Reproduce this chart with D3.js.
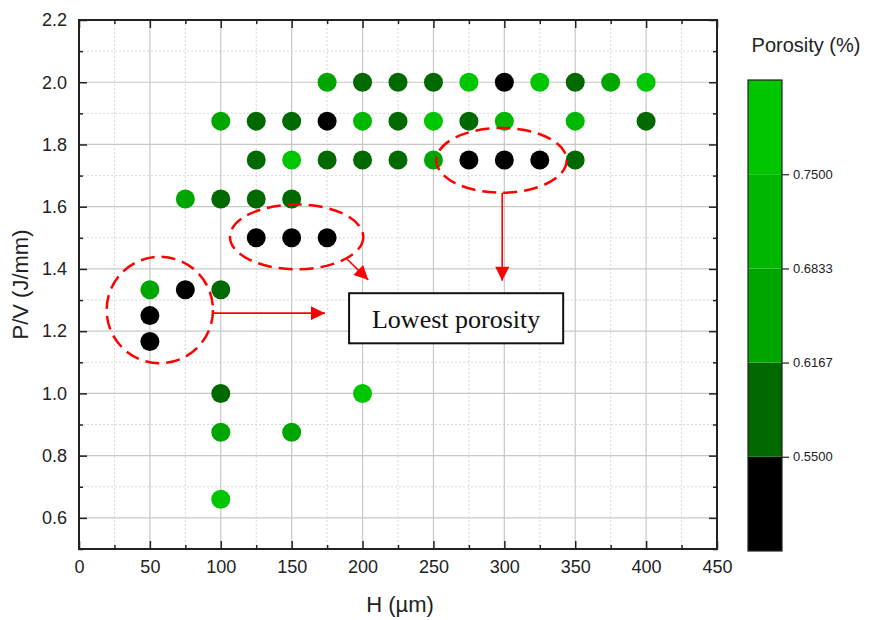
<!DOCTYPE html>
<html>
<head>
<meta charset="utf-8">
<script src="https://cdn.jsdelivr.net/npm/d3@7"></script>
<style>
    body { margin: 0; background: #fff; }
    svg { display: block; font-family: Arial, "Liberation Sans", sans-serif; }
</style>
</head>
<body>
<svg id="chart" width="875" height="620"></svg>
<script>

// hatch spacing H (um), energy P/V (J/mm) and measured porosity (%) for each sample
var hValues = [175, 200, 225, 250, 275, 300, 325, 350, 375, 400,
               100, 125, 150, 175, 200, 225, 250, 275, 300, 350, 400,
               125, 150, 175, 200, 225, 250, 275, 300, 325, 350,
               75, 100, 125, 150,
               125, 150, 175,
               50, 75, 100,
               50, 50,
               100, 200,
               100, 150,
               100];
var pvValues = [2.0, 2.0, 2.0, 2.0, 2.0, 2.0, 2.0, 2.0, 2.0, 2.0,
                1.875, 1.875, 1.875, 1.875, 1.875, 1.875, 1.875, 1.875, 1.875, 1.875, 1.875,
                1.75, 1.75, 1.75, 1.75, 1.75, 1.75, 1.75, 1.75, 1.75, 1.75,
                1.625, 1.625, 1.625, 1.625,
                1.5, 1.5, 1.5,
                1.333, 1.333, 1.333,
                1.25, 1.1667,
                1.0, 1.0,
                0.875, 0.875,
                0.66];
var porosity = [0.65, 0.58, 0.58, 0.58, 0.78, 0.50, 0.78, 0.58, 0.65, 0.78,
                0.65, 0.58, 0.58, 0.50, 0.72, 0.58, 0.78, 0.58, 0.72, 0.72, 0.58,
                0.58, 0.78, 0.58, 0.58, 0.58, 0.65, 0.50, 0.50, 0.50, 0.58,
                0.65, 0.58, 0.58, 0.58,
                0.50, 0.50, 0.50,
                0.65, 0.50, 0.58,
                0.50, 0.50,
                0.58, 0.78,
                0.65, 0.65,
                0.78];

var levelBreaks = [0.55, 0.6167, 0.6833, 0.75];
var levelColors = ['#000000', '#006a00', '#00a600', '#00b800', '#00c600'];
var levelLabels = ['0.5500', '0.6167', '0.6833', '0.7500'];

var xTicks = [0, 50, 100, 150, 200, 250, 300, 350, 400, 450];
var yTicks = [0.6, 0.8, 1.0, 1.2, 1.4, 1.6, 1.8, 2.0, 2.2];

var svg = d3.select('#chart'),
    plotLeft = 79, plotRight = 717, plotTop = 20, plotBottom = 549;

var x = d3.scaleLinear().domain([0, 450]).range([plotLeft, plotRight]),
    y = d3.scaleLinear().domain([0.5, 2.2]).range([plotBottom, plotTop]),
    color = d3.scaleThreshold().domain(levelBreaks).range(levelColors);

var xMinor = d3.range(25, 450, 50),
    yMinor = d3.range(0.5, 2.2, 0.2);

// grid
var grid = svg.append('g');

grid.selectAll('line.xminor').data(xMinor).enter().append('line')
    .attr('x1', x).attr('x2', x).attr('y1', plotTop).attr('y2', plotBottom)
    .attr('stroke', '#d8d8d8').attr('stroke-dasharray', '2,2');

grid.selectAll('line.yminor').data(yMinor).enter().append('line')
    .attr('y1', y).attr('y2', y).attr('x1', plotLeft).attr('x2', plotRight)
    .attr('stroke', '#d8d8d8').attr('stroke-dasharray', '2,2');

grid.selectAll('line.xmajor').data(xTicks.slice(1, -1)).enter().append('line')
    .attr('x1', x).attr('x2', x).attr('y1', plotTop).attr('y2', plotBottom)
    .attr('stroke', '#c8c8c8').attr('stroke-width', 1.2);

grid.selectAll('line.ymajor').data(yTicks.slice(0, -1)).enter().append('line')
    .attr('y1', y).attr('y2', y).attr('x1', plotLeft).attr('x2', plotRight)
    .attr('stroke', '#c8c8c8').attr('stroke-width', 1.2);

// points
var samples = hValues.map(function(h, i) { return {h: h, pv: pvValues[i], p: porosity[i]} });

svg.append('g').selectAll('circle').data(samples).enter().append('circle')
    .attr('cx', function(d) { return x(d.h) })
    .attr('cy', function(d) { return y(d.pv) })
    .attr('r', 9.5)
    .attr('fill', function(d) { return color(d.p) });

// axes, ticks pointing inwards on all four sides
function styleAxis(g)
{
    g.select('.domain').remove();
    g.selectAll('.tick line').attr('stroke', '#222').attr('stroke-width', 1.5);
    g.selectAll('.tick text').attr('fill', '#222').style('font-size', '18px').style('font-family', 'Arial, "Liberation Sans", sans-serif');
}

svg.append('g').attr('transform', 'translate(0,' + plotBottom + ')')
    .call(d3.axisBottom(x).tickValues(xTicks).tickSize(-8).tickPadding(11).tickFormat(d3.format('d')))
    .call(styleAxis);
svg.append('g').attr('transform', 'translate(0,' + plotBottom + ')')
    .call(d3.axisBottom(x).tickValues(xMinor).tickSize(-4).tickFormat(''))
    .call(styleAxis);
svg.append('g').attr('transform', 'translate(0,' + plotTop + ')')
    .call(d3.axisTop(x).tickValues(xTicks).tickSize(-8).tickFormat(''))
    .call(styleAxis);
svg.append('g').attr('transform', 'translate(0,' + plotTop + ')')
    .call(d3.axisTop(x).tickValues(xMinor).tickSize(-4).tickFormat(''))
    .call(styleAxis);

svg.append('g').attr('transform', 'translate(' + plotLeft + ',0)')
    .call(d3.axisLeft(y).tickValues(yTicks).tickSize(-8).tickPadding(12).tickFormat(d3.format('.1f')))
    .call(styleAxis);
svg.append('g').attr('transform', 'translate(' + plotLeft + ',0)')
    .call(d3.axisLeft(y).tickValues(yMinor).tickSize(-4).tickFormat(''))
    .call(styleAxis);
svg.append('g').attr('transform', 'translate(' + plotRight + ',0)')
    .call(d3.axisRight(y).tickValues(yTicks).tickSize(-8).tickFormat(''))
    .call(styleAxis);
svg.append('g').attr('transform', 'translate(' + plotRight + ',0)')
    .call(d3.axisRight(y).tickValues(yMinor).tickSize(-4).tickFormat(''))
    .call(styleAxis);

svg.append('rect')
    .attr('x', plotLeft).attr('y', plotTop).attr('width', plotRight - plotLeft).attr('height', plotBottom - plotTop)
    .attr('fill', 'none').attr('stroke', '#222').attr('stroke-width', 2);

svg.append('text')
    .attr('x', (plotLeft + plotRight) / 2 + 2).attr('y', 612)
    .attr('text-anchor', 'middle').attr('fill', '#222')
    .style('font-size', '22px')
    .text('H (\u00b5m)');

svg.append('text')
    .attr('transform', 'translate(28,' + (plotTop + plotBottom) / 2 + ') rotate(-90)')
    .attr('text-anchor', 'middle').attr('fill', '#222')
    .style('font-size', '22px')
    .text('P/V (J/mm)');

// annotations
var red = '#ff0000';

svg.append('defs').append('marker')
    .attr('id', 'head')
    .attr('viewBox', '0 0 10 10')
    .attr('refX', 10).attr('refY', 5)
    .attr('markerUnits', 'userSpaceOnUse')
    .attr('markerWidth', 16).attr('markerHeight', 14)
    .attr('orient', 'auto')
  .append('path')
    .attr('d', 'M0,0L10,5L0,10Z')
    .attr('fill', red);

var rings = [
    {h: 57, pv: 1.268, rh: 37.5, rpv: 0.171},
    {h: 153.5, pv: 1.503, rh: 47, rpv: 0.104},
    {h: 298, pv: 1.749, rh: 46, rpv: 0.104}
];

svg.append('g').selectAll('ellipse').data(rings).enter().append('ellipse')
    .attr('cx', function(d) { return x(d.h) })
    .attr('cy', function(d) { return y(d.pv) })
    .attr('rx', function(d) { return x(d.h + d.rh) - x(d.h) })
    .attr('ry', function(d) { return y(d.pv) - y(d.pv + d.rpv) })
    .attr('fill', 'none')
    .attr('stroke', red)
    .attr('stroke-width', 2.5)
    .attr('stroke-dasharray', '14,7');

var arrows = [
    {h1: 94.5, pv1: 1.258, h2: 173.5, pv2: 1.258},
    {h1: 189, pv1: 1.432, h2: 204, pv2: 1.365},
    {h1: 298.5, pv1: 1.645, h2: 298.5, pv2: 1.362}
];

svg.append('g').selectAll('line').data(arrows).enter().append('line')
    .attr('x1', function(d) { return x(d.h1) })
    .attr('y1', function(d) { return y(d.pv1) })
    .attr('x2', function(d) { return x(d.h2) })
    .attr('y2', function(d) { return y(d.pv2) })
    .attr('stroke', red)
    .attr('stroke-width', 1.6)
    .attr('marker-end', 'url(#head)');

var box = svg.append('g');
box.append('rect')
    .attr('x', x(190.5)).attr('y', y(1.322))
    .attr('width', x(341.5) - x(190.5)).attr('height', y(1.161) - y(1.322))
    .attr('fill', '#fff').attr('stroke', '#111').attr('stroke-width', 2);
box.append('text')
    .attr('x', x(266)).attr('y', y(1.21))
    .attr('text-anchor', 'middle').attr('fill', '#111')
    .style('font-family', '"Liberation Serif", "Times New Roman", serif')
    .style('font-size', '26px')
    .text('Lowest porosity');

// colour bar legend
var barLeft = 748, barWidth = 34;
var bar = d3.scaleLinear().domain([0.4833, 0.8167]).range([551, 80]);
var bands = [0.4833].concat(levelBreaks).concat([0.8167]);

var legend = svg.append('g');

legend.selectAll('rect').data(levelColors).enter().append('rect')
    .attr('x', barLeft)
    .attr('y', function(c, i) { return bar(bands[i + 1]) })
    .attr('width', barWidth)
    .attr('height', function(c, i) { return bar(bands[i]) - bar(bands[i + 1]) })
    .attr('fill', function(c) { return c });

legend.append('rect')
    .attr('x', barLeft).attr('y', bar(0.8167))
    .attr('width', barWidth).attr('height', bar(0.4833) - bar(0.8167))
    .attr('fill', 'none').attr('stroke', '#222').attr('stroke-width', 1.2);

legend.append('g').attr('transform', 'translate(' + (barLeft + barWidth) + ',0)')
    .call(d3.axisRight(bar).tickValues(levelBreaks).tickSize(7).tickPadding(4)
        .tickFormat(function(d, i) { return levelLabels[i] }))
    .call(function(g) {
        g.select('.domain').remove();
        g.selectAll('.tick line').attr('stroke', '#222').attr('stroke-width', 1.2);
        g.selectAll('.tick text').attr('fill', '#222').style('font-size', '13px').style('font-family', 'Arial, "Liberation Sans", sans-serif');
    });

legend.append('text')
    .attr('x', 806).attr('y', 52)
    .attr('text-anchor', 'middle').attr('fill', '#222')
    .style('font-size', '20px')
    .text('Porosity (%)');

</script>
</body>
</html>
